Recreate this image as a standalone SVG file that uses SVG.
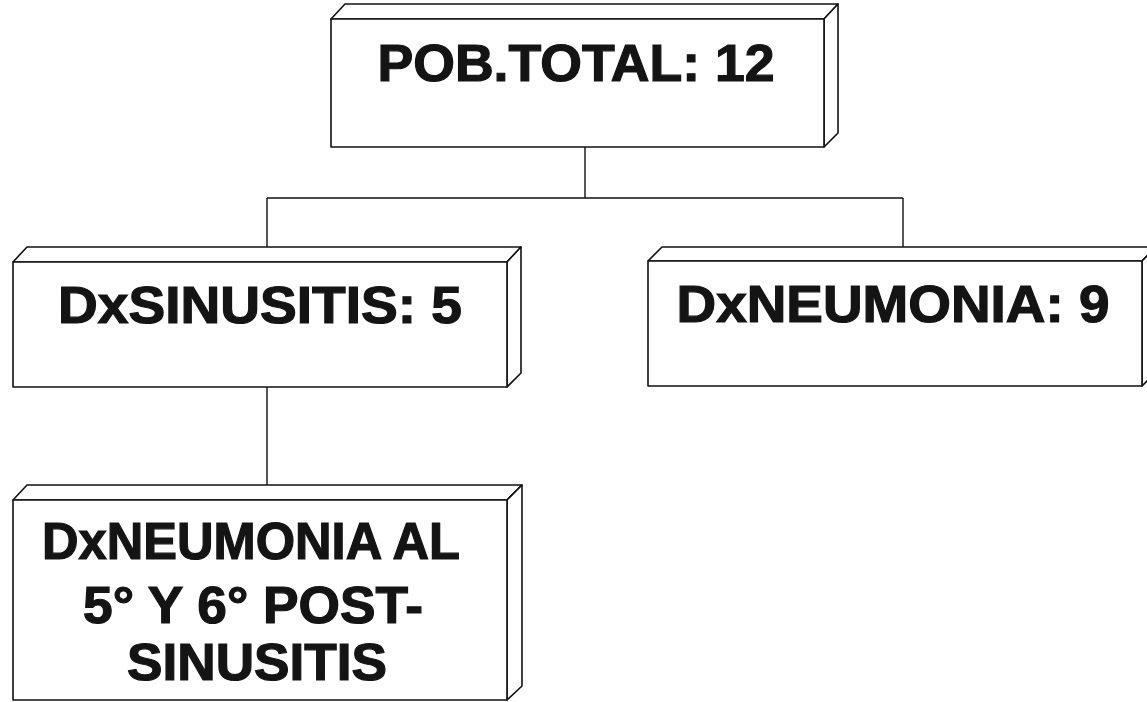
<svg xmlns="http://www.w3.org/2000/svg" width="1147" height="702" viewBox="0 0 1147 702">
<style>
.box{fill:#fff;stroke:#111;stroke-width:1.6;stroke-linejoin:round}
.lbl{font-family:"Liberation Sans",Arial,sans-serif;font-weight:bold;font-size:51px;fill:#141414;stroke:#141414;stroke-width:1.2;text-anchor:middle}
.conn{fill:none;stroke:#111;stroke-width:1.4}
</style>
<rect width="1147" height="702" fill="#fff"/>
<g id="connectors">
<path class="conn" d="M585 147 V198 M267 198 H903 M267 198 V247 M903 198 V247 M267 387 V485"/>
</g>
<g id="node-total">
<path class="box" d="M331 19 L345 4 H838 L824 19 Z"/>
<path class="box" d="M824 19 L838 4 V133 L824 147 Z"/>
<rect class="box" x="331" y="19" width="493" height="128"/>
<text class="lbl" x="576" y="81" textLength="397" lengthAdjust="spacingAndGlyphs">POB.TOTAL: 12</text>
</g>
<g id="node-sinusitis">
<path class="box" d="M13 262 L27 247 H521 L507 262 Z"/>
<path class="box" d="M507 262 L521 247 V373 L507 387 Z"/>
<rect class="box" x="13" y="262" width="494" height="125"/>
<text class="lbl" x="260" y="323" textLength="404" lengthAdjust="spacingAndGlyphs">DxSINUSITIS: 5</text>
</g>
<g id="node-neumonia">
<path class="box" d="M648 261 L662 247 H1156 L1142 261 Z"/>
<path class="box" d="M1142 261 L1156 247 V372 L1142 386 Z"/>
<rect class="box" x="648" y="261" width="494" height="125"/>
<text class="lbl" x="893" y="322" textLength="433" lengthAdjust="spacingAndGlyphs">DxNEUMONIA: 9</text>
</g>
<g id="node-post">
<path class="box" d="M13 500 L27 485 H522 L507 500 Z"/>
<path class="box" d="M507 500 L522 485 V686 L507 700 Z"/>
<rect class="box" x="13" y="500" width="494" height="200"/>
<text class="lbl" x="251" y="559" font-size="48" textLength="418" lengthAdjust="spacingAndGlyphs">DxNEUMONIA AL</text>
<text class="lbl" x="253" y="623" font-size="48" textLength="340" lengthAdjust="spacingAndGlyphs">5° Y 6° POST-</text>
<text class="lbl" x="257" y="680" font-size="48" textLength="260" lengthAdjust="spacingAndGlyphs">SINUSITIS</text>
</g>
</svg>
